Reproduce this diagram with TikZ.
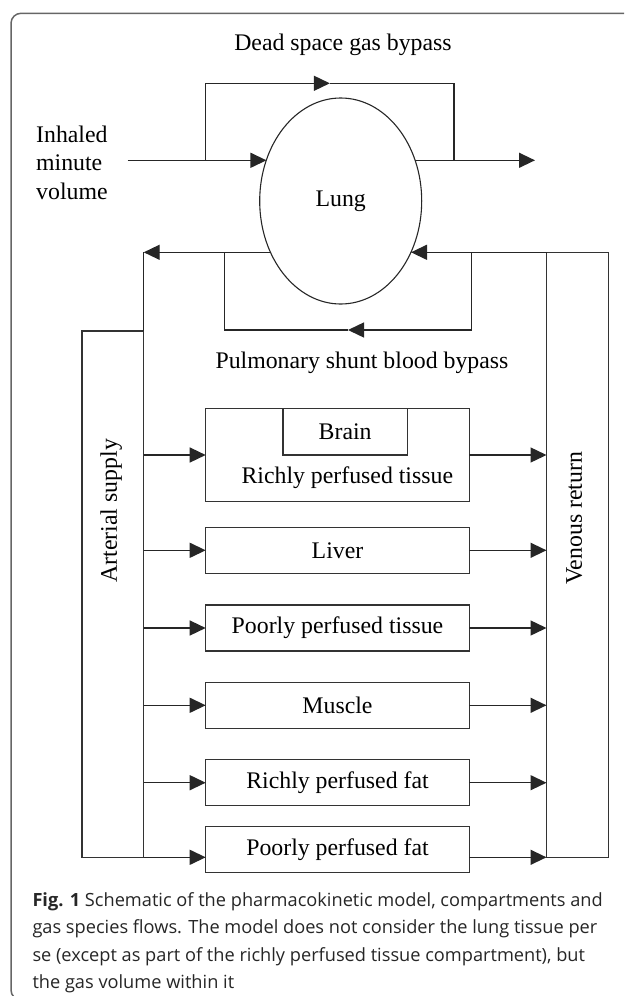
\documentclass[tikz,border=0pt]{standalone}
\usepackage{fontspec}
\setmainfont{Liberation Serif}
\newfontfamily\capfont{Open Sans}
\usetikzlibrary{positioning,arrows.meta,shapes.geometric,calc}

\begin{document}
\begin{tikzpicture}[
  x=1pt, y=-1pt,
  font={\fontsize{23.8}{28.5}\selectfont},
  wire/.style={line width=1.4pt, draw=black!85},
  flow/.style={wire, -{Triangle[length=16pt,width=15pt]}},
  organ/.style={rectangle, draw=black!80, line width=1.2pt, minimum width=263.6pt, minimum height=46pt, inner sep=0pt, outer sep=0pt},
  column/.style={rectangle, draw=black!80, line width=1.2pt, inner sep=0pt, outer sep=0pt},
  lungv/.style={ellipse, draw=black!85, line width=1.1pt, minimum width=162pt, minimum height=206pt, inner sep=0pt, outer sep=0pt},
  frame/.style={draw=black!60, line width=1.5pt, rounded corners=10pt}
]
\useasboundingbox (0,0) rectangle (624,996);
\begin{scope}
\clip (0,0) rectangle (624,996);
\draw[frame] (11,13.3) rectangle (680,1000);
\end{scope}

\node[anchor=base] (deadtxt) at (343,50) {Dead space gas bypass};
\node[anchor=west, align=left, inner sep=0pt] (inhtxt) at (36,162.5) {Inhaled\\minute\\volume};
\node[lungv] (lung) at (340.7,201) {Lung};
\node[anchor=base] (shunttxt) at (362,368.3) {Pulmonary shunt blood bypass};

\node[column, minimum width=61.7pt, minimum height=526.3pt] (art) at (112.85,594.15) {};
\node[column, minimum width=62pt, minimum height=605pt] (ven) at (577.5,554.8) {};
\node[rotate=90] (arttxt) at (111.2,510.7) {Arterial supply};
\node[rotate=90] (ventxt) at (574.2,518.3) {Venous return};

\node[organ, minimum height=93.4pt] (rich) at (337.5,455) {};
\node[organ, minimum width=124.3pt, minimum height=46.7pt, anchor=north] (brain) at ([xshift=7.65pt]rich.north) {Brain};
\node[anchor=base] (richtxt) at (347.3,483.3) {Richly perfused tissue};
\node[organ] (liver) at (337.5,550.3) {Liver};
\node[organ] (ppt) at (337.5,628) {Poorly perfused tissue};
\node[organ] (muscle) at (337.5,705.3) {Muscle};
\node[organ] (rpf) at (337.5,782.7) {Richly perfused fat};
\node[organ] (ppf) at (337.5,849.7) {Poorly perfused fat};

\coordinate (inhal) at (127.7,160.3);
\coordinate (exhal) at (535,160.3);
\coordinate (dsin) at (205.7,160.3);
\coordinate (dsout) at (454,160.3);
\coordinate (dstop) at (329.85,83.3);
\coordinate (artup) at (143.7,252.3);
\coordinate (shl) at (224.3,252.3);
\coordinate (shr) at (471.7,252.3);
\coordinate (shbot) at (348,330);

\draw[flow] (inhal) -- (inhal -| lung.151);
\draw[flow] (exhal -| lung.29) -- (exhal);
\draw[flow] (dsin) |- (dstop);
\draw[wire] (dstop) -| (dsout);
\draw[flow] (artup -| lung.216) -- (artup);
\draw[wire] (artup) -- (art.north east);
\draw[flow] (ven.north west) -- (ven.north west -| lung.-36);
\draw[flow] (shr) |- (shbot);
\draw[wire] (shbot) -| (shl);

\foreach \o in {rich,liver,ppt,muscle,rpf} {
  \draw[flow] (art.east |- \o.west) -- (\o.west);
  \draw[flow] (\o.east) -- (ven.west |- \o.east);
}
\draw[flow] (art.south east) -- (art.south east -| ppf.west);
\draw[flow] (ppf.east |- ven.south west) -- (ven.south west);

\node[anchor=base west, align=left, inner sep=0pt, text=black!85,
  font={\capfont\fontsize{18.2}{27.6}\selectfont}] (cap) at (32.3,988.8)
  {\textbf{Fig. 1} Schematic of the pharmacokinetic model, compartments and\\
   gas species flows. The model does not consider the lung tissue per\\
   se (except as part of the richly perfused tissue compartment), but\\
   the gas volume within it};
\end{tikzpicture}
\end{document}
